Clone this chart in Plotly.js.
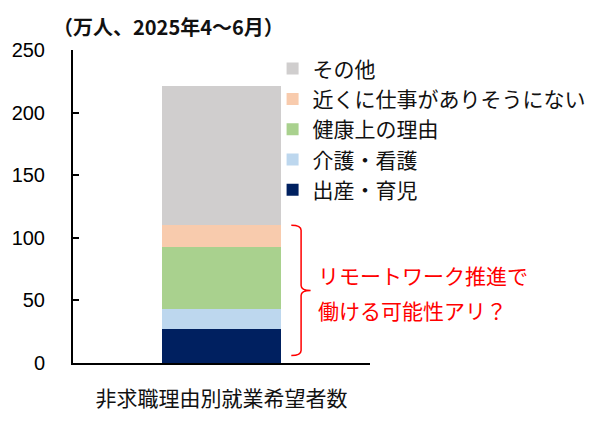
<!DOCTYPE html>
<html>
<head>
<meta charset="utf-8">
<script src="https://cdn.plot.ly/plotly-3.0.1.min.js"></script>
<style>
  body { margin: 0; background: #fff; }
  #chart { width: 600px; height: 430px; }
</style>
</head>
<body>
<div id="chart"></div>
<script>
  // 非求職理由別就業希望者数（万人、2025年4～6月）
  var category = ["非求職理由別就業希望者数"];
  var reasons = ["出産・育児", "介護・看護", "健康上の理由", "近くに仕事がありそうにない", "その他"];
  var values = [27, 16, 50, 17, 111];
  var colors = ["#002060", "#bdd7ee", "#a9d18e", "#f8cbad", "#d0cece"];

  var jp = "'Noto Sans CJK JP', 'Noto Sans', sans-serif";

  var data = reasons.map(function (name, i) {
    return {
      type: "bar",
      name: name,
      x: category,
      y: [values[i]],
      width: 0.4,
      legendgroup: "g" + i,
      marker: { color: colors[i], line: { width: 0 } },
      hoverinfo: "none",
    };
  });

  var layout = {
    width: 600,
    height: 430,
    barmode: "stack",
    showlegend: true,
    plot_bgcolor: "#fff",
    paper_bgcolor: "#fff",
    margin: { t: 50, b: 67, l: 73, r: 230, autoexpand: false },
    font: { family: jp, color: "#000" },
    legend: {
      x: 0.672,
      y: 1.005,
      xanchor: "left",
      yanchor: "top",
      bgcolor: "rgba(0,0,0,0)",
      traceorder: "reversed",
      tracegroupgap: 4,
      font: { family: jp, size: 21, color: "#111" },
      itemclick: false,
    },
    xaxis: {
      range: [-0.5, 0.5],
      showline: true,
      linecolor: "#000",
      linewidth: 2,
      ticks: "inside",
      tickson: "boundaries",
      ticklen: 6,
      tickwidth: 2,
      tickcolor: "#000",
      ticklabelstandoff: 16,
      tickfont: { family: jp, size: 21, color: "#111" },
      fixedrange: true,
    },
    yaxis: {
      range: [0, 250],
      dtick: 50,
      showgrid: false,
      zeroline: false,
      showline: true,
      linecolor: "#000",
      linewidth: 2,
      ticks: "inside",
      ticklen: 6,
      tickwidth: 2,
      tickcolor: "#000",
      ticklabelstandoff: 22,
      tickfont: { family: "'Liberation Sans', Arial, sans-serif", size: 20, color: "#000", weight: 500 },
      fixedrange: true,
    },
    shapes: [
      {
        type: "path",
        xref: "paper",
        yref: "y",
        path: "M 0.735,110 Q 0.768,110 0.768,106 L 0.768,62 Q 0.768,58 0.80,58 Q 0.768,58 0.768,54 L 0.768,10 Q 0.768,6 0.735,6",
        line: { color: "#ff0000", width: 1.5 },
      },
    ],
    annotations: [
      {
        text: "（万人、2025年4～6月）",
        xref: "paper",
        yref: "paper",
        x: -0.075,
        y: 1.075,
        xanchor: "left",
        yanchor: "middle",
        showarrow: false,
        font: { family: jp, size: 20, color: "#111", weight: "bold" },
      },
      {
        text: "リモートワーク推進で",
        xref: "paper",
        yref: "y",
        x: 0.818,
        y: 70.5,
        xanchor: "left",
        yanchor: "middle",
        showarrow: false,
        font: { family: jp, size: 21, color: "#ff0000" },
      },
      {
        text: "働ける可能性アリ？",
        xref: "paper",
        yref: "y",
        x: 0.818,
        y: 42,
        xanchor: "left",
        yanchor: "middle",
        showarrow: false,
        font: { family: jp, size: 21, color: "#ff0000" },
      },
    ],
  };

  var config = { displayModeBar: false, staticPlot: true };

  Plotly.newPlot("chart", data, layout, config);
</script>
</body>
</html>
